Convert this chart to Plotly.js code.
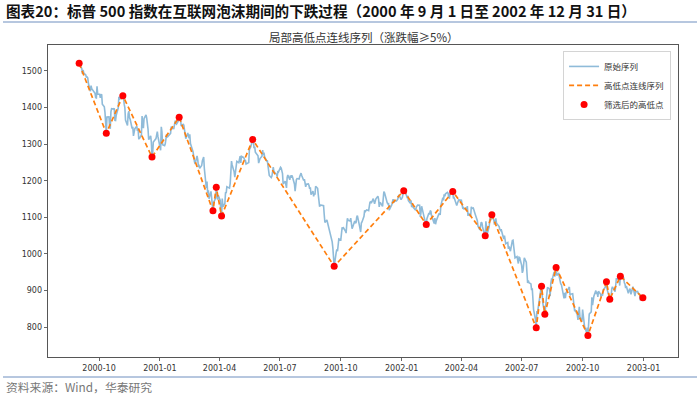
<!DOCTYPE html>
<html>
<head>
<meta charset="utf-8">
<script src="https://cdn.plot.ly/plotly-3.0.1.min.js"></script>
<style>
  html, body { margin: 0; padding: 0; background: #ffffff; }
  #chart { width: 700px; height: 397px; }
</style>
</head>
<body>
<div id="chart"></div>
<script>
// ---- Data: S&P 500 daily closes, 2000-09-01 .. 2002-12-31 ----
const startDate = '2000-09-01';
const endDate = '2002-12-31';
const marketHolidays = [
  '2000-09-04','2000-11-23','2000-12-25',
  '2001-01-01','2001-01-15','2001-02-19','2001-04-13','2001-05-28','2001-07-04','2001-09-03',
  '2001-09-11','2001-09-12','2001-09-13','2001-09-14','2001-11-22','2001-12-25',
  '2002-01-01','2002-01-21','2002-02-18','2002-03-29','2002-05-27','2002-07-04','2002-09-02',
  '2002-11-28','2002-12-25'
];

const closes2000 = [
  // Sep
  1520.77,1507.08,1492.25,1502.51,1494.50,1489.26,1481.99,1484.91,1480.87,1465.81,
  1444.51,1459.90,1451.34,1449.05,1448.72,1439.03,1427.21,1426.57,1458.29,1436.51,
  // Oct
  1436.23,1426.46,1434.32,1436.28,1408.99,1402.03,1387.02,1364.59,1329.78,1374.17,
  1374.62,1349.97,1342.13,1388.76,1396.93,1395.78,1398.13,1364.90,1364.44,1379.58,
  1398.66,1429.40,
  // Nov
  1421.22,1428.32,1426.69,1432.19,1431.87,1409.28,1400.14,1365.98,1351.26,1382.95,
  1389.81,1372.32,1367.72,1342.62,1347.35,1322.36,1341.77,1348.97,1336.09,1341.93,
  1314.95,
  // Dec
  1315.23,1324.97,1376.54,1351.46,1343.55,1369.89,1380.20,1371.18,1359.99,1340.93,
  1312.15,1322.74,1305.60,1264.74,1274.86,1305.95,1315.19,1328.92,1334.22,1320.28
];

const closes2001 = [
  // Jan
  1283.27,1347.56,1333.34,1298.35,1295.86,1300.80,1313.27,1326.82,1318.55,1326.65,
  1329.47,1347.97,1342.54,1342.90,1360.40,1364.30,1357.51,1354.95,1364.17,1373.73,
  1366.01,
  // Feb
  1373.47,1349.47,1354.31,1352.26,1340.89,1332.53,1314.76,1330.31,1318.80,1315.92,
  1326.61,1301.53,1278.94,1255.27,1252.82,1245.86,1267.65,1257.94,1239.94,
  // Mar
  1241.23,1234.18,1241.41,1253.80,1261.89,1264.74,1233.42,1180.16,1197.66,1166.71,
  1173.56,1150.53,1170.81,1142.62,1122.14,1117.58,1139.83,1152.69,1182.17,1153.29,
  1147.95,1160.33,
  // Apr
  1145.87,1106.46,1103.25,1151.44,1128.43,1137.59,1168.38,1165.89,1183.50,1179.68,
  1191.81,1238.16,1253.69,1242.98,1224.36,1209.47,1228.75,1234.52,1253.05,1249.46,
  // May
  1266.44,1267.43,1248.58,1266.61,1263.51,1261.20,1255.54,1255.18,1245.67,1248.92,
  1249.44,1284.99,1288.49,1291.96,1312.83,1309.38,1289.05,1293.17,1277.89,1267.93,
  1248.08,1255.82,
  // Jun
  1260.67,1267.11,1283.57,1270.03,1276.96,1264.96,1254.39,1255.85,1241.60,1219.87,
  1214.36,1208.43,1212.58,1223.14,1237.04,1225.35,1218.60,1216.76,1211.07,1226.20,
  1224.38,
  // Jul
  1236.72,1234.45,1219.24,1190.59,1198.78,1181.52,1180.18,1208.14,1215.68,1202.45,
  1214.44,1207.71,1215.02,1210.85,1191.03,1171.65,1190.49,1202.93,1205.82,1204.52,
  1211.23,
  // Aug
  1215.93,1220.75,1214.35,1200.48,1204.40,1183.53,1183.43,1190.16,1191.29,1186.73,
  1178.02,1181.66,1161.97,1171.41,1157.26,1165.31,1162.09,1184.93,1179.21,1161.51,
  1148.56,1129.03,1133.58,
  // Sep
  1132.94,1131.74,1106.40,1085.78,1092.54,1038.77,1032.74,1016.10,984.54,965.80,
  1003.45,1012.27,1007.04,1018.61,1040.94,
  // Oct
  1038.55,1051.33,1072.28,1069.63,1071.38,1062.44,1056.75,1080.99,1097.43,1091.65,
  1089.98,1097.54,1077.09,1068.61,1073.48,1089.90,1084.78,1085.20,1100.09,1104.61,
  1078.30,1059.79,1059.78,
  // Nov
  1084.10,1087.20,1102.84,1118.86,1115.80,1118.54,1120.31,1118.33,1139.09,1141.21,
  1142.24,1138.65,1151.06,1142.66,1137.03,1150.34,1157.42,1149.50,1128.52,1140.20,
  1139.45,
  // Dec
  1129.90,1144.80,1170.35,1167.10,1158.31,1139.93,1136.76,1137.07,1119.38,1123.09,
  1134.36,1142.92,1149.56,1139.93,1144.89,1144.65,1149.37,1157.13,1161.02,1148.08
];

const closes2002 = [
  // Jan
  1154.67,1165.27,1172.51,1164.89,1160.71,1155.14,1156.55,1145.60,1138.41,1146.19,
  1127.57,1138.88,1127.58,1119.31,1128.18,1132.15,1133.28,1133.06,1100.64,1113.57,
  1130.20,
  // Feb
  1122.20,1094.44,1090.02,1083.51,1080.17,1096.22,1111.94,1107.50,1118.51,1116.48,
  1104.18,1083.34,1097.98,1080.95,1089.84,1109.43,1109.38,1109.89,1106.73,
  // Mar
  1131.78,1153.84,1146.14,1162.77,1157.54,1164.31,1168.26,1165.58,1154.09,1153.04,
  1166.16,1165.55,1170.29,1151.85,1153.59,1148.70,1131.87,1138.49,1144.58,1147.39,
  // Apr
  1146.54,1136.76,1125.40,1126.34,1122.73,1125.29,1117.80,1130.47,1103.69,1111.01,
  1102.55,1128.37,1126.07,1124.47,1125.17,1107.83,1100.96,1093.14,1091.48,1076.32,
  1065.45,1076.92,
  // May
  1086.46,1084.56,1073.43,1052.67,1049.49,1088.85,1073.01,1054.99,1074.56,1097.28,
  1091.07,1098.23,1106.59,1091.88,1079.88,1086.02,1097.08,1083.82,1074.55,1067.66,
  1064.66,1067.14,
  // Jun
  1040.68,1040.69,1049.90,1029.15,1027.53,1030.74,1013.60,1020.26,1009.56,1007.27,
  1036.17,1037.14,1019.99,1006.29,989.14,992.72,976.14,973.53,990.64,989.82,
  // Jul
  968.65,948.09,953.99,989.03,976.98,952.83,920.47,927.37,921.39,917.93,
  900.94,906.04,881.56,847.75,819.85,797.70,843.43,838.68,852.84,898.96,
  902.78,911.62,
  // Aug
  884.66,864.24,834.60,859.57,876.77,905.46,908.64,903.80,884.21,919.62,
  930.25,928.77,950.70,937.43,949.36,962.70,940.86,947.95,934.82,917.87,
  917.80,916.07,
  // Sep
  878.02,893.40,879.15,893.92,902.96,909.58,909.45,886.91,889.81,891.10,
  873.52,869.46,843.32,845.39,833.70,819.29,839.66,854.95,827.37,815.28,
  // Oct
  847.91,827.91,818.95,800.58,785.28,798.55,776.76,803.92,835.32,841.44,
  881.27,860.02,879.20,884.39,899.72,890.16,896.14,882.50,897.65,890.23,
  882.15,890.71,885.76,
  // Nov
  900.96,908.35,915.39,923.76,902.65,894.74,876.19,882.95,882.53,904.27,
  909.83,900.36,896.74,914.15,933.76,930.55,932.87,913.31,938.87,936.31,
  // Dec
  934.53,920.75,917.58,906.55,912.23,892.00,904.45,904.96,901.58,889.48,
  910.40,902.99,891.12,884.25,895.76,897.38,892.47,889.66,875.40,879.39,
  879.82
];

// Local highs / lows (swing >= 5%)
const pivotDates = [
  '2000-09-01','2000-10-12','2000-11-06','2000-12-20','2001-01-30','2001-03-22',
  '2001-03-27','2001-04-04','2001-05-21','2001-09-21','2002-01-04','2002-02-07',
  '2002-03-19','2002-05-07','2002-05-17','2002-07-23','2002-07-31','2002-08-05',
  '2002-08-22','2002-10-09','2002-11-06','2002-11-11','2002-11-27','2002-12-31'
];

const xTickLabels = ['2000-10','2001-01','2001-04','2001-07','2001-10','2002-01','2002-04','2002-07','2002-10','2003-01'];
const yTickValues = [800, 900, 1000, 1100, 1200, 1300, 1400, 1500];

const seriesNames = ['原始序列', '高低点连线序列', '筛选后的高低点'];

// ---- Build the trading calendar ----
function isoDate(d) {
  return d.toISOString().slice(0, 10);
}
function tradingDays(start, end, holidays) {
  const out = [];
  const hol = new Set(holidays);
  const d = new Date(start + 'T00:00:00Z');
  const e = new Date(end + 'T00:00:00Z');
  while (d <= e) {
    const wd = d.getUTCDay();
    const s = isoDate(d);
    if (wd !== 0 && wd !== 6 && !hol.has(s)) out.push(s);
    d.setUTCDate(d.getUTCDate() + 1);
  }
  return out;
}

const dates = tradingDays(startDate, endDate, marketHolidays);
const closes = closes2000.concat(closes2001, closes2002);
if (dates.length !== closes.length) {
  throw new Error('length mismatch: dates ' + dates.length + ' closes ' + closes.length);
}
const closeByDate = {};
dates.forEach((d, i) => { closeByDate[d] = closes[i]; });
const pivotValues = pivotDates.map(d => closeByDate[d]);

// ---- Traces ----
const traces = [
  {
    x: dates, y: closes, type: 'scatter', mode: 'lines', name: seriesNames[0],
    line: { color: 'rgba(31,119,180,0.5)', width: 1.6 },
    hoverinfo: 'skip'
  },
  {
    x: pivotDates, y: pivotValues, type: 'scatter', mode: 'lines', name: seriesNames[1],
    line: { color: '#ff7f0e', width: 1.7, dash: '5px,3px' }
  },
  {
    x: pivotDates, y: pivotValues, type: 'scatter', mode: 'markers', name: seriesNames[2],
    marker: { color: '#ff0000', size: 7 }
  }
];

const CJK = '"Noto Sans CJK SC", "Noto Sans", sans-serif';
const TICKF = '"DejaVu Sans", sans-serif';

const layout = {
  width: 700, height: 397,
  margin: { l: 48, r: 22, t: 45, b: 40 },
  paper_bgcolor: '#ffffff', plot_bgcolor: '#ffffff',
  showlegend: true,
  legend: {
    x: 0.989, xanchor: 'right', y: 0.981, yanchor: 'top',
    bgcolor: 'rgba(255,255,255,0.9)', bordercolor: '#d4d4d4', borderwidth: 1,
    font: { family: CJK, size: 8.5, color: '#333' },
    itemwidth: 30, tracegroupgap: 0
  },
  xaxis: {
    type: 'date',
    range: ['2000-07-16', '2003-02-22'],
    tickvals: xTickLabels.map(t => t + '-01'),
    ticktext: xTickLabels,
    ticks: 'outside', ticklen: 3.5, tickcolor: '#444', tickwidth: 0.8,
    showline: true, linecolor: '#444', linewidth: 0.9, mirror: true,
    showgrid: false, zeroline: false,
    tickfont: { family: TICKF, size: 8, color: '#333' }
  },
  yaxis: {
    range: [718, 1571],
    tickvals: yTickValues,
    ticks: 'outside', ticklen: 3.5, tickcolor: '#444', tickwidth: 0.8,
    showline: true, linecolor: '#444', linewidth: 0.9, mirror: true,
    showgrid: false, zeroline: false,
    tickfont: { family: TICKF, size: 8, color: '#333' }
  },
  annotations: [
    {
      text: '图表20：标普 500 指数在互联网泡沫期间的下跌过程（2000 年 9 月 1 日至 2002 年 12 月 31 日）',
      xref: 'paper', yref: 'paper', x: (4 - 48) / 630, y: (357 - 11) / 312,
      xanchor: 'left', yanchor: 'middle', showarrow: false,
      font: { family: CJK, size: 14.6, color: '#111', weight: 'bold' }
    },
    {
      text: '局部高低点连线序列（涨跌幅≥5%）',
      xref: 'paper', yref: 'paper', x: 0.5, y: (357 - 37) / 312,
      xanchor: 'center', yanchor: 'middle', showarrow: false,
      font: { family: CJK, size: 11.5, color: '#333' }
    },
    {
      text: '资料来源：Wind，华泰研究',
      xref: 'paper', yref: 'paper', x: (4 - 48) / 630, y: (357 - 386) / 312,
      xanchor: 'left', yanchor: 'middle', showarrow: false,
      font: { family: CJK, size: 11.8, color: '#777' }
    }
  ],
  shapes: [
    {
      type: 'line', xref: 'paper', yref: 'paper',
      x0: (3 - 48) / 630, x1: (697 - 48) / 630, y0: (357 - 22) / 312, y1: (357 - 22) / 312,
      line: { color: '#6f8fbf', width: 1 }
    },
    {
      type: 'line', xref: 'paper', yref: 'paper',
      x0: (3 - 48) / 630, x1: (697 - 48) / 630, y0: (357 - 377) / 312, y1: (357 - 377) / 312,
      line: { color: '#6f8fbf', width: 1 }
    }
  ]
};

Plotly.newPlot('chart', traces, layout, { displayModeBar: false, staticPlot: true });
</script>
</body>
</html>
